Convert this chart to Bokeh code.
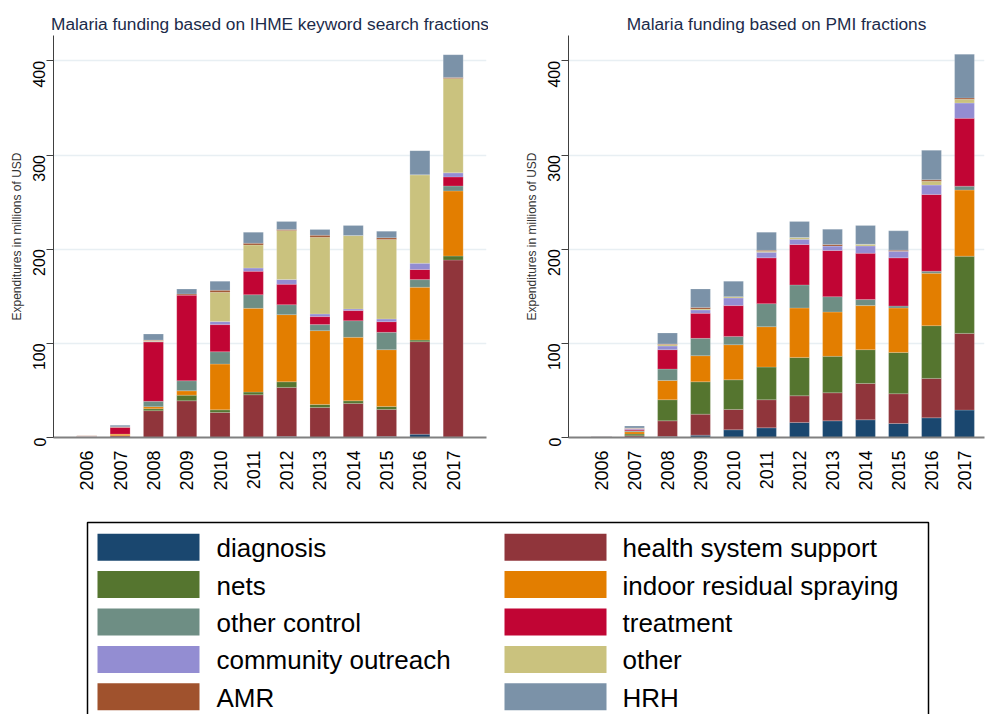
import math
from bokeh.plotting import figure
from bokeh.models import Range1d, FixedTicker, ColumnDataSource
from bokeh.layouts import column, row
from bokeh.core.properties import value
from bokeh.embed import file_html
from bokeh.resources import INLINE

years = list(range(2006, 2018))

categories = ["diagnosis", "health system support", "nets", "indoor residual spraying",
              "other control", "treatment", "community outreach", "other", "AMR", "HRH"]
keys = ["diagnosis", "hss", "nets", "irs", "other_control", "treatment",
        "community_outreach", "other", "amr", "hrh"]
colors = ["#1a476f", "#90353b", "#55752f", "#e37e00", "#6e8e84",
          "#c10534", "#938dd2", "#cac27e", "#a0522d", "#7b92a8"]

# IHME keyword search fractions (millions USD)
ihme_diagnosis = [0, 0, 0, 0, 0, 0, 1.0, 0, 0, 1.0, 3.5, 0.5]
ihme_hss = [1.5, 1.8, 28.5, 39.0, 26.6, 45.4, 52.2, 31.9, 36.2, 28.8, 98.3, 188.0]
ihme_nets = [0, 0, 2.1, 6.0, 2.8, 2.8, 6.0, 3.2, 2.8, 3.2, 1.7, 4.3]
ihme_irs = [0, 1.8, 2.1, 4.6, 48.6, 89.0, 71.3, 78.4, 67.4, 60.3, 56.1, 69.1]
ihme_other_control = [0, 0, 5.7, 10.7, 13.1, 14.5, 10.6, 6.4, 17.7, 18.4, 8.1, 5.3]
ihme_treatment = [0, 7.4, 63.1, 91.1, 28.8, 24.8, 21.7, 8.5, 10.7, 11.3, 10.7, 9.6]
ihme_community_outreach = [0, 0, 0.5, 0, 3.2, 3.5, 5.0, 2.8, 1.7, 2.9, 6.7, 4.3]
ihme_other = [0, 0, 1.0, 0, 31.2, 24.5, 52.2, 81.6, 78.0, 84.4, 94.0, 100.3]
ihme_amr = [0.3, 0.3, 0.5, 1.0, 2.1, 1.8, 1.0, 2.0, 0, 1.8, 0, 1.1]
ihme_hrh = [0, 1.8, 6.4, 5.3, 9.6, 11.7, 8.5, 6.1, 10.7, 7.0, 25.6, 24.1]

# PMI fractions (millions USD)
pmi_diagnosis = [0.2, 0.3, 1.0, 2.5, 8.2, 10.3, 16.0, 17.7, 18.8, 14.9, 20.9, 29.1]
pmi_hss = [0.6, 1.5, 16.7, 22.3, 21.6, 29.8, 28.3, 29.8, 38.6, 31.6, 41.9, 81.5]
pmi_nets = [0.2, 1.8, 22.4, 34.4, 31.5, 34.7, 40.8, 38.7, 35.9, 43.9, 56.0, 82.0]
pmi_irs = [0, 2.5, 20.5, 27.7, 37.3, 42.9, 52.5, 47.1, 46.8, 47.2, 55.7, 70.2]
pmi_other_control = [0, 1.0, 12.1, 18.4, 8.8, 24.5, 24.5, 16.3, 6.4, 2.1, 2.1, 4.2]
pmi_treatment = [0.3, 1.5, 20.6, 26.6, 32.7, 48.6, 42.9, 49.0, 49.2, 51.1, 81.6, 72.0]
pmi_community_outreach = [0, 1.0, 3.9, 3.6, 8.1, 6.0, 5.6, 4.9, 7.8, 7.1, 9.9, 16.3]
pmi_other = [0, 0.3, 1.7, 1.0, 1.4, 1.0, 1.8, 0, 1.8, 0, 4.2, 3.9]
pmi_amr = [0, 0.3, 0.5, 1.7, 0, 1.0, 0, 1.5, 0, 1.1, 1.5, 1.4]
pmi_hrh = [0.3, 2.0, 11.6, 19.6, 16.4, 19.3, 17.0, 16.3, 19.9, 20.5, 31.2, 46.5]

y_ticks = [0, 100, 200, 300, 400]

ihme = [ihme_diagnosis, ihme_hss, ihme_nets, ihme_irs, ihme_other_control, ihme_treatment,
        ihme_community_outreach, ihme_other, ihme_amr, ihme_hrh]
pmi = [pmi_diagnosis, pmi_hss, pmi_nets, pmi_irs, pmi_other_control, pmi_treatment,
       pmi_community_outreach, pmi_other, pmi_amr, pmi_hrh]

FONT = "Liberation Sans"


def make_chart(title, series, frame_w, x_end, mbl):
    p = figure(output_backend="svg", toolbar_location=None,
               frame_width=frame_w, frame_height=402,
               min_border_left=mbl, min_border_right=2,
               min_border_top=35, min_border_bottom=71,
               x_range=Range1d(2005, x_end), y_range=Range1d(0, 427))
    data = {"year": years}
    for k, s in zip(keys, series):
        data[k] = s
    src = ColumnDataSource(data)
    p.vbar_stack(keys, x="year", width=0.6, fill_color=colors, source=src,
                 line_color="white", line_alpha=0.3, line_width=0.6)

    p.title.text = title
    p.title.align = "center"
    p.title.text_font = FONT
    p.title.text_font_size = "17.3px"
    p.title.text_font_style = "normal"
    p.title.text_color = "#1c2b4a"
    p.title.standoff = 4

    p.outline_line_color = None
    p.background_fill_color = "white"
    p.border_fill_color = "white"
    p.xgrid.grid_line_color = None
    p.ygrid.grid_line_color = "#e8eff3"
    p.ygrid.grid_line_width = 1.5
    p.ygrid.ticker = FixedTicker(ticks=y_ticks)

    xa = p.xaxis[0]
    xa.ticker = FixedTicker(ticks=years)
    xa.major_label_orientation = math.pi / 2
    xa.major_tick_line_color = None
    xa.minor_tick_line_color = None
    xa.axis_line_color = "#808080"
    xa.axis_line_width = 2
    xa.major_label_text_font = FONT
    xa.major_label_text_font_size = "18px"
    xa.major_label_text_color = "black"
    xa.major_label_standoff = 7

    ya = p.yaxis[0]
    ya.ticker = FixedTicker(ticks=y_ticks)
    ya.major_label_orientation = math.pi / 2
    ya.minor_tick_line_color = None
    ya.major_tick_out = 7
    ya.major_tick_in = 0
    ya.axis_line_color = "#404040"
    ya.major_tick_line_color = "#404040"
    ya.major_label_text_font = FONT
    ya.major_label_text_font_size = "16px"
    ya.major_label_text_color = "black"
    ya.major_label_standoff = 7
    ya.axis_label = "Expenditures in millions of USD"
    ya.axis_label_text_font = FONT
    ya.axis_label_text_font_size = "12px"
    ya.axis_label_text_font_style = "normal"
    ya.axis_label_text_color = "#333333"
    ya.axis_label_standoff = 1
    return p


p1 = make_chart("Malaria funding based on IHME keyword search fractions", ihme, 433, 2018, 53)
p2 = make_chart("Malaria funding based on PMI fractions", pmi, 416, 2005 + 416 / 33.0, 80)

# Legend panel
LW, LH = 986, 206
p3 = figure(output_backend="svg", toolbar_location=None,
            frame_width=LW, frame_height=LH, min_border=0,
            x_range=Range1d(0, LW), y_range=Range1d(LH, 0))
p3.axis.visible = False
p3.grid.visible = False
p3.outline_line_color = None

box_left, box_right, box_top = 87, 928, 14
p3.line(x=[box_left, box_left, box_right, box_right], y=[LH + 20, box_top, box_top, LH + 20],
        line_color="black", line_width=1.5)

row0, row_step = 38.7, 37.4
sw_x = [148, 555]
tx_x = [216, 622]
lx, ly, lc, tx, ty, tl = [], [], [], [], [], []
for i, (name, col) in enumerate(zip(categories, colors)):
    r, c = divmod(i, 2)
    y = row0 + r * row_step
    lx.append(sw_x[c]); ly.append(y); lc.append(col)
    tx.append(tx_x[c]); ty.append(y + 1); tl.append(name)
p3.rect(x=lx, y=ly, width=102, height=27, fill_color=lc, line_color=None)
p3.text(x=tx, y=ty, text=tl, text_font=value(FONT), text_font_size="26px",
        text_baseline="middle", text_align="left", text_color="black")

layout = column(row(p1, p2), p3)

with open("out.html", "w") as f:
    f.write(file_html(layout, INLINE))
